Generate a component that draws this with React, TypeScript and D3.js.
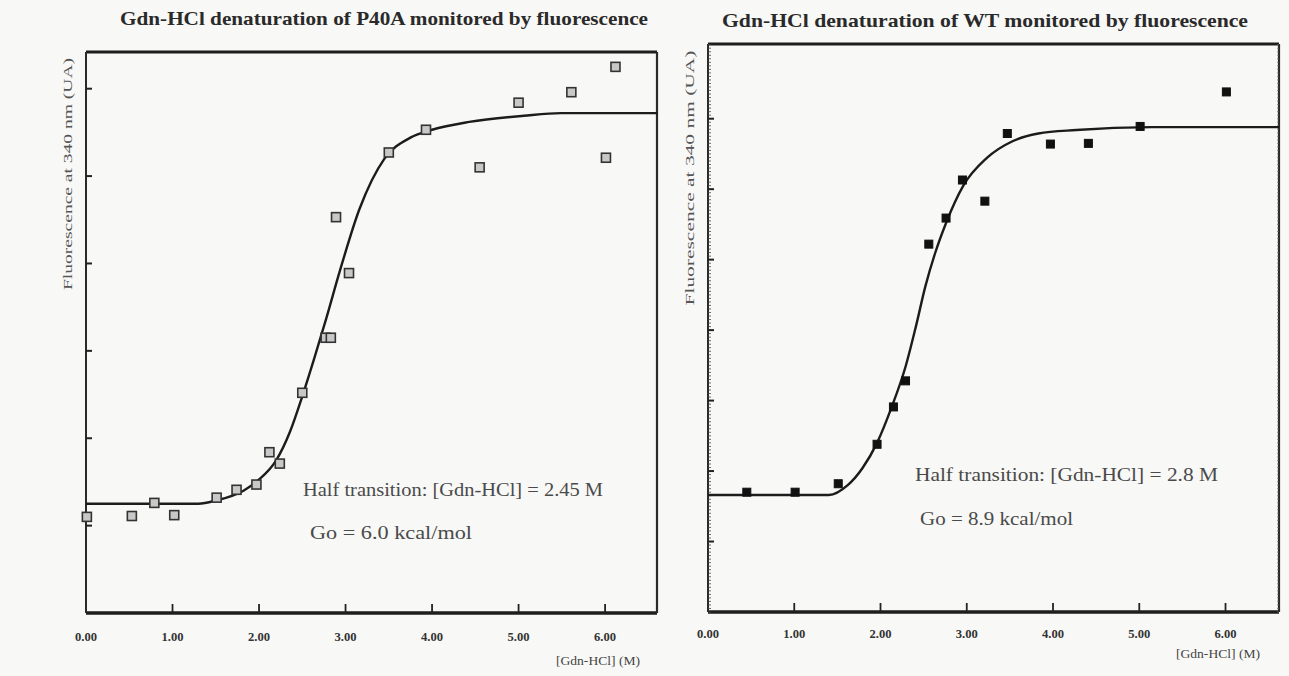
import React from "react";
import * as d3 from "d3";

// ---------- Data ----------
const p40aX = [0.01, 0.53, 0.79, 1.02, 1.51, 1.74, 1.97, 2.12, 2.24, 2.50, 2.77, 2.83, 2.89, 3.04, 3.50, 3.93, 4.55, 5.00, 5.61, 6.12, 6.01];
const p40aY = [1.10, 1.11, 1.26, 1.12, 1.32, 1.41, 1.47, 1.84, 1.71, 2.52, 3.15, 3.15, 4.53, 3.89, 5.27, 5.53, 5.10, 5.84, 5.96, 6.25, 5.21];

const p40aFitX = [0, 1.30, 1.51, 1.82, 1.99, 2.20, 2.36, 2.50, 2.64, 2.78, 2.93, 3.16, 3.45, 3.75, 4.00, 4.43, 5.06, 5.49, 6.61];
const p40aFitY = [1.25, 1.25, 1.29, 1.40, 1.52, 1.75, 2.08, 2.48, 2.92, 3.38, 3.90, 4.62, 5.20, 5.44, 5.53, 5.62, 5.69, 5.72, 5.72];

const wtX = [0.45, 1.01, 1.51, 1.96, 2.15, 2.29, 2.56, 2.76, 2.95, 3.21, 3.47, 3.97, 4.41, 5.01, 6.01];
const wtY = [1.70, 1.70, 1.82, 2.38, 2.91, 3.28, 5.22, 5.59, 6.13, 5.83, 6.79, 6.64, 6.65, 6.89, 7.38];

const wtFitX = [0, 1.40, 1.62, 1.79, 1.96, 2.13, 2.29, 2.41, 2.52, 2.63, 2.76, 2.96, 3.23, 3.53, 3.83, 4.27, 5.14, 6.62];
const wtFitY = [1.66, 1.66, 1.80, 2.04, 2.40, 2.91, 3.48, 4.05, 4.62, 5.08, 5.52, 6.05, 6.44, 6.68, 6.79, 6.84, 6.88, 6.88];

const xTickValues = [0, 1, 2, 3, 4, 5, 6];
const xTickLabels = ["0.00", "1.00", "2.00", "3.00", "4.00", "5.00", "6.00"];
const p40aYTicks = [1, 2, 3, 4, 5, 6];
const wtYTicks = [1, 2, 3, 4, 5, 6, 7];

const titleLeft = "Gdn-HCl denaturation of P40A monitored by fluorescence";
const titleRight = "Gdn-HCl denaturation of WT monitored by fluorescence";
const yLabel = "Fluorescence at 340 nm (UA)";
const xLabel = "[Gdn-HCl] (M)";
const annLeft = ["Half transition: [Gdn-HCl] = 2.45 M", "Go = 6.0 kcal/mol"];
const annRight = ["Half transition: [Gdn-HCl] = 2.8 M", "Go = 8.9 kcal/mol"];

const SERIF = "Liberation Serif, Times New Roman, Times, serif";

type PanelProps = {
  x: d3.ScaleLinear<number, number>;
  y: d3.ScaleLinear<number, number>;
  px: number[];
  py: number[];
  fx: number[];
  fy: number[];
  yTicks: number[];
  filled: boolean;
  minor: boolean;
  title: string;
  titleX: number;
  titleY: number;
  titleLen: number;
  yLabelX: number;
  yLabelMid: number;
  yLabelLen: number;
  xLabelX: number;
  xLabelY: number;
  ann: string[];
  annX: number[];
  annY: number[];
  annLen: number[];
  tickLabelY: number;
};

function Panel(p: PanelProps) {
  const [x0, x1] = p.x.range();
  const [y0, y1] = p.y.range(); // y0 bottom, y1 top
  const line = d3
    .line<number>()
    .x((_, i) => p.x(p.fx[i]))
    .y((_, i) => p.y(p.fy[i]))
    .curve(d3.curveMonotoneX);
  const minorTicks = p.minor ? d3.range(0, p.y.domain()[1], 0.05) : [];
  const s = p.filled ? 8 : 9;
  const font = { fontFamily: SERIF };
  return (
    <g>
      <text
        x={p.titleX}
        y={p.titleY}
        style={font}
        fontWeight="bold"
        fontSize={19}
        fill="#2a2a2a"
        textLength={p.titleLen}
        lengthAdjust="spacingAndGlyphs"
      >
        {p.title}
      </text>
      {/* frame */}
      <line x1={x0} x2={x1} y1={y1} y2={y1} stroke="#1e1e1e" strokeWidth={3} />
      <line x1={x0} x2={x1} y1={y0} y2={y0} stroke="#1e1e1e" strokeWidth={3.5} />
      <line x1={x0} x2={x0} y1={y1} y2={y0} stroke="#2a2a2a" strokeWidth={2} />
      <line x1={x1} x2={x1} y1={y1} y2={y0} stroke="#2a2a2a" strokeWidth={2.2} />
      {/* minor ticks */}
      {minorTicks.map((t, i) => (
        <line key={"m" + i} x1={x0} x2={x0 + 3} y1={p.y(t)} y2={p.y(t)} stroke="#444" strokeWidth={0.8} />
      ))}
      {minorTicks.map((t, i) => (
        <line key={"mr" + i} x1={x1} x2={x1 - 2} y1={p.y(t)} y2={p.y(t)} stroke="#666" strokeWidth={0.7} />
      ))}
      {/* y ticks */}
      {p.yTicks.map((t) => (
        <line key={"y" + t} x1={x0} x2={x0 + 6} y1={p.y(t)} y2={p.y(t)} stroke="#222" strokeWidth={2} />
      ))}
      {/* x ticks */}
      {xTickValues.slice(1).map((t) => (
        <line key={"x" + t} x1={p.x(t)} x2={p.x(t)} y1={y0} y2={y0 - 9} stroke="#222" strokeWidth={1.8} />
      ))}
      {xTickValues.map((t, i) => (
        <text
          key={"xl" + t}
          x={p.x(t)}
          y={p.tickLabelY}
          textAnchor="middle"
          style={font}
          fontWeight="bold"
          fontSize={12}
          fill="#333"
          textLength={22}
          lengthAdjust="spacingAndGlyphs"
        >
          {xTickLabels[i]}
        </text>
      ))}
      <text
        x={p.xLabelX}
        y={p.xLabelY}
        style={font}
        fontSize={13}
        fill="#444"
        textLength={84}
        lengthAdjust="spacingAndGlyphs"
      >
        {xLabel}
      </text>
      <text
        transform={`translate(${p.yLabelX},${p.yLabelMid}) rotate(-90)`}
        textAnchor="middle"
        style={font}
        fontSize={13}
        fill="#555"
        textLength={p.yLabelLen}
        lengthAdjust="spacingAndGlyphs"
      >
        {yLabel}
      </text>
      {/* fit curve */}
      <path d={line(p.fx) || ""} fill="none" stroke="#1c1c1c" strokeWidth={2.4} />
      {/* points */}
      {p.px.map((v, i) => (
        <rect
          key={"p" + i}
          x={p.x(v) - s / 2}
          y={p.y(p.py[i]) - s / 2}
          width={s}
          height={s}
          fill={p.filled ? "#111" : "#c8c8c8"}
          stroke={p.filled ? "#111" : "#333"}
          strokeWidth={p.filled ? 1 : 1.6}
        />
      ))}
      {p.ann.map((a, i) => (
        <text
          key={"a" + i}
          x={p.annX[i]}
          y={p.annY[i]}
          style={font}
          fontSize={18}
          fill="#4a4a4a"
          textLength={p.annLen[i]}
          lengthAdjust="spacingAndGlyphs"
        >
          {a}
        </text>
      ))}
    </g>
  );
}

export default function App() {
  const xL = d3.scaleLinear().domain([0, 6.6]).range([86, 657]);
  const yL = d3.scaleLinear().domain([0, 6.42]).range([613, 52]);
  const xR = d3.scaleLinear().domain([0, 6.62]).range([708, 1279]);
  const yR = d3.scaleLinear().domain([0, 8.06]).range([612, 44]);
  return (
    <svg
      width={1289}
      height={676}
      style={{ position: "absolute", left: 0, top: 0, background: "#f8f8f6" }}
    >
      <rect x={0} y={0} width={1289} height={676} fill="#f8f8f6" />
      <Panel
        x={xL}
        y={yL}
        px={p40aX}
        py={p40aY}
        fx={p40aFitX}
        fy={p40aFitY}
        yTicks={p40aYTicks}
        filled={false}
        minor={false}
        title={titleLeft}
        titleX={120}
        titleY={25}
        titleLen={528}
        yLabelX={72}
        yLabelMid={174}
        yLabelLen={232}
        xLabelX={556}
        xLabelY={665}
        ann={annLeft}
        annX={[303, 310]}
        annY={[496, 539]}
        annLen={[300, 162]}
        tickLabelY={641}
      />
      <Panel
        x={xR}
        y={yR}
        px={wtX}
        py={wtY}
        fx={wtFitX}
        fy={wtFitY}
        yTicks={wtYTicks}
        filled={true}
        minor={true}
        title={titleRight}
        titleX={722}
        titleY={27}
        titleLen={526}
        yLabelX={694}
        yLabelMid={178}
        yLabelLen={255}
        xLabelX={1176}
        xLabelY={658}
        ann={annRight}
        annX={[915, 920]}
        annY={[481, 525]}
        annLen={[303, 153]}
        tickLabelY={638}
      />
    </svg>
  );
}
